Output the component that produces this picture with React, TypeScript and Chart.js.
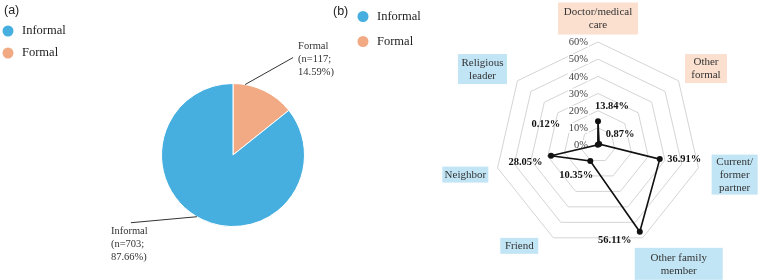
import { useEffect, useRef } from "react";
import { Chart, registerables } from "chart.js";

Chart.register(...registerables);

// Panel (a): kind of help received
const helpTypes = ["Informal", "Formal"];
const helpCounts = [703, 117];
const helpPercents = [87.66, 14.59];

// Panel (b): source of help
const sourceLabels = [
  ["Doctor/medical", "care"],
  ["Other", "formal"],
  ["Current/", "former", "partner"],
  ["Other family", "member"],
  ["Friend"],
  ["Neighbor"],
  ["Religious", "leader"],
];
const sourceTypes = ["Formal", "Formal", "Informal", "Informal", "Informal", "Informal", "Informal"];
const sourceShares = [13.84, 0.87, 36.91, 56.11, 10.35, 28.05, 0.12];
const shareTicks = [0, 10, 20, 30, 40, 50, 60];

const typeColors: Record<string, string> = { Informal: "#47afe0", Formal: "#f2aa84" };
const typeBoxColors: Record<string, string> = { Informal: "#c2e5f6", Formal: "#fbdfcf" };

const SERIF = "'Liberation Serif', 'Times New Roman', serif";
const SANS = "'Liberation Sans', Arial, sans-serif";

// Panel letter plus a dot legend of the help types
const panelLegend = {
  id: "panelLegend",
  afterDraw(chart: any, _args: any, opts: any) {
    const ctx = chart.ctx;
    ctx.save();
    ctx.textBaseline = "middle";
    ctx.textAlign = "left";
    ctx.fillStyle = "#222";
    ctx.font = `12.5px ${SANS}`;
    ctx.fillText(opts.title, opts.titleX, opts.titleY);
    helpTypes.forEach((t, i) => {
      const y = opts.y + i * opts.gap;
      ctx.beginPath();
      ctx.fillStyle = typeColors[t];
      ctx.arc(opts.x, y, 5.5, 0, Math.PI * 2);
      ctx.fill();
      ctx.fillStyle = "#222";
      ctx.font = `12.5px ${SERIF}`;
      ctx.fillText(t, opts.x + 14, y);
    });
    ctx.restore();
  },
};

// Leader lines and n / % labels on the pie slices
const pieCallouts = {
  id: "pieCallouts",
  afterDatasetsDraw(chart: any, _args: any, opts: any) {
    const ctx = chart.ctx;
    const meta = chart.getDatasetMeta(0);
    ctx.save();
    meta.data.forEach((arc: any, i: number) => {
      const p = arc.getProps(["x", "y", "startAngle", "endAngle", "outerRadius"], true);
      const spec = opts.items[i];
      const a = p.startAngle + (p.endAngle - p.startAngle) * spec.at;
      const ax = p.x + Math.cos(a) * p.outerRadius;
      const ay = p.y + Math.sin(a) * p.outerRadius;
      const bx = ax + spec.dx;
      const by = ay + spec.dy;
      ctx.strokeStyle = "#333";
      ctx.lineWidth = 1;
      ctx.beginPath();
      ctx.moveTo(ax, ay);
      ctx.lineTo(bx, by);
      ctx.stroke();
      const label: string[] = chart.data.datasets[0].calloutText[i];
      ctx.fillStyle = "#333";
      ctx.font = `10.5px ${SERIF}`;
      ctx.textAlign = "left";
      ctx.textBaseline = "middle";
      label.forEach((line, k) => ctx.fillText(line, bx + spec.tx, by + spec.ty + k * 12.7));
    });
    ctx.restore();
  },
};

// Percent ring labels beside the top axis
const ringTicks = {
  id: "ringTicks",
  beforeDatasetsDraw(chart: any) {
    const ctx = chart.ctx;
    const scale = chart.scales.r;
    ctx.save();
    ctx.font = `10.5px ${SERIF}`;
    ctx.textAlign = "right";
    ctx.textBaseline = "middle";
    shareTicks.forEach((v) => {
      const y = scale.yCenter - scale.getDistanceFromCenterForValue(v);
      const text = `${v}%`;
      const w = ctx.measureText(text).width;
      const right = scale.xCenter - 10;
      ctx.fillStyle = "#ffffff";
      ctx.fillRect(right - w - 1, y - 5, w + 2, 10);
      ctx.fillStyle = "#444";
      ctx.fillText(text, right, y + 0.5);
    });
    ctx.restore();
  },
};

// Boxed category names around the web, shaded by help type
const boxedPointLabels = {
  id: "boxedPointLabels",
  afterDraw(chart: any, _args: any, opts: any) {
    const ctx = chart.ctx;
    const scale = chart.scales.r;
    ctx.save();
    ctx.font = `11px ${SERIF}`;
    ctx.textAlign = "center";
    ctx.textBaseline = "middle";
    sourceLabels.forEach((lines, i) => {
      const spec = opts.items[i];
      const base = scale.getPointPosition(i, scale.drawingArea + opts.gap);
      const cx = base.x + spec.dx;
      const cy = base.y + spec.dy;
      ctx.fillStyle = typeBoxColors[sourceTypes[i]];
      ctx.fillRect(cx - spec.w / 2, cy - spec.h / 2, spec.w, spec.h);
      ctx.fillStyle = "#333";
      const lh = 13;
      const top = cy - ((lines.length - 1) * lh) / 2;
      lines.forEach((line, k) => ctx.fillText(line, cx, top + k * lh + 0.5));
    });
    ctx.restore();
  },
};

// Bold value labels next to each point
const valueLabels = {
  id: "valueLabels",
  afterDatasetsDraw(chart: any, _args: any, opts: any) {
    const ctx = chart.ctx;
    const meta = chart.getDatasetMeta(0);
    ctx.save();
    ctx.font = `bold 10.5px ${SERIF}`;
    ctx.fillStyle = "#111";
    ctx.textAlign = "center";
    ctx.textBaseline = "middle";
    meta.data.forEach((pt: any, i: number) => {
      const off = opts.offsets[i];
      ctx.fillText(`${sourceShares[i].toFixed(2)}%`, pt.x + off[0], pt.y + off[1]);
    });
    ctx.restore();
  },
};

export default function App() {
  const pieRef = useRef<HTMLCanvasElement | null>(null);
  const radarRef = useRef<HTMLCanvasElement | null>(null);

  useEffect(() => {
    const pieOrder = [1, 0]; // formal slice starts at twelve o'clock
    const pie = new Chart(pieRef.current as HTMLCanvasElement, {
      type: "pie",
      data: {
        labels: pieOrder.map((i) => helpTypes[i]),
        datasets: [
          {
            data: pieOrder.map((i) => helpCounts[i]),
            backgroundColor: pieOrder.map((i) => typeColors[helpTypes[i]]),
            borderColor: "#ffffff",
            borderWidth: 1,
            calloutText: pieOrder.map((i) => [
              helpTypes[i],
              `(n=${helpCounts[i]};`,
              `${helpPercents[i].toFixed(2)}%)`,
            ]),
          } as any,
        ],
      },
      options: {
        animation: false,
        responsive: false,
        events: [],
        layout: { padding: { left: 161, right: 455, top: 83, bottom: 53 } },
        plugins: {
          legend: { display: false },
          tooltip: { enabled: false },
          panelLegend: { title: "(a)", titleX: 4, titleY: 11, x: 8, y: 31, gap: 22 },
          pieCallouts: {
            items: [
              { at: 0.19, dx: 48, dy: -27, tx: 5, ty: -11 },
              { at: 0.515, dx: -66, dy: 6, tx: -20, ty: 9 },
            ],
          },
        } as any,
      },
      plugins: [panelLegend, pieCallouts],
    });

    const radar = new Chart(radarRef.current as HTMLCanvasElement, {
      type: "radar",
      data: {
        labels: sourceLabels.map((l) => l.join(" ")),
        datasets: [
          {
            data: sourceShares,
            borderColor: "#111",
            borderWidth: 1.6,
            pointRadius: 3,
            pointBackgroundColor: "#111",
            pointBorderWidth: 0,
            fill: false,
          },
        ],
      },
      options: {
        animation: false,
        responsive: false,
        events: [],
        layout: { padding: { left: 495, right: 59, top: 42, bottom: 32 } },
        scales: {
          r: {
            min: 0,
            max: 60,
            ticks: { display: false, stepSize: 10 },
            pointLabels: { display: false },
            angleLines: { display: false },
            grid: { color: "#d4d4d4", lineWidth: 1 },
          },
        },
        plugins: {
          legend: { display: false },
          tooltip: { enabled: false },
          panelLegend: { title: "(b)", titleX: 333, titleY: 12, x: 363, y: 16.5, gap: 25 },
          boxedPointLabels: {
            gap: 30,
            items: [
              { dx: 0, dy: 6.5, w: 80, h: 32 },
              { dx: 4, dy: 6.5, w: 42, h: 29 },
              { dx: 7, dy: 0, w: 46, h: 40 },
              { dx: 23, dy: -1, w: 88, h: 32 },
              { dx: -21, dy: -19, w: 38, h: 16 },
              { dx: -3, dy: 0, w: 46, h: 16 },
              { dx: -11.5, dy: 7, w: 49, h: 30 },
            ],
          },
          valueLabels: {
            offsets: [
              [14, -14.5],
              [21, -9.5],
              [24.5, 0],
              [-25, 8.5],
              [-14, 14],
              [-25.5, 7],
              [-52, -21],
            ],
          },
        } as any,
      },
      plugins: [panelLegend, ringTicks, boxedPointLabels, valueLabels],
    });

    return () => {
      pie.destroy();
      radar.destroy();
    };
  }, []);

  const layer: any = { position: "absolute", left: 0, top: 0, width: 760, height: 280 };
  return (
    <div style={{ position: "fixed", left: 0, top: 0, width: 760, height: 280, background: "#ffffff" }}>
      <canvas ref={pieRef} width={760} height={280} style={layer} />
      <canvas ref={radarRef} width={760} height={280} style={layer} />
    </div>
  );
}
